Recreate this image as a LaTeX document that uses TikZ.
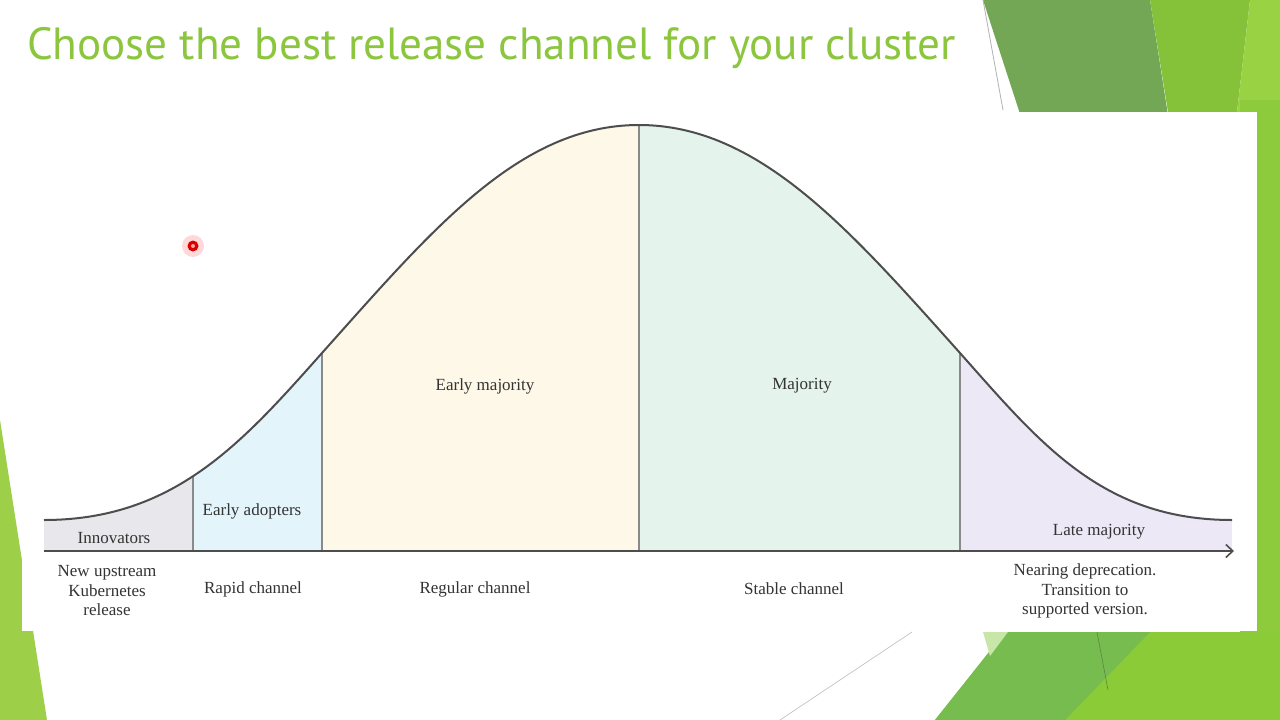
\documentclass[tikz,border=0pt]{standalone}
\usepackage{fontspec}
\setmainfont{Liberation Serif}
\newfontfamily\titlefont{PT Sans}
\usetikzlibrary{arrows.meta}
\definecolor{titlegreen}{HTML}{8CC63F}
\definecolor{txtgray}{HTML}{333333}
\definecolor{curvegray}{HTML}{4D4D4D}
\definecolor{sepgray}{HTML}{8A8A8A}
\definecolor{fInnov}{HTML}{E8E8EC}
\definecolor{fAdopt}{HTML}{E3F4FB}
\definecolor{fEarly}{HTML}{FDF8E7}
\definecolor{fMaj}{HTML}{E4F3EC}
\definecolor{fLate}{HTML}{ECE8F6}
\definecolor{gDark}{HTML}{73A755}
\definecolor{gBright}{HTML}{86C13A}
\definecolor{gLight}{HTML}{99D343}
\definecolor{gStrip}{HTML}{8ECB3C}
\definecolor{gLeft}{HTML}{9DCF48}
\definecolor{gMid}{HTML}{76BC4F}
\definecolor{gBase}{HTML}{8BCB38}
\definecolor{gPale}{HTML}{C8E6A8}
\newcommand{\bellpath}{(44,520) .. controls (174,520) and (242,443) .. (322,353)
  .. controls (432,230) and (519,125) .. (639,125)
  .. controls (759,125) and (850,230) .. (960,353)
  .. controls (1040,443) and (1102,520) .. (1232,520)}
\begin{document}
\begin{tikzpicture}[x=1pt,y=-1pt,
  lbl/.style={font=\fontsize{17}{19.5}\selectfont, text=txtgray, align=center, inner sep=0},
  sep/.style={draw=sepgray, line width=1.2pt},
  curveline/.style={draw=curvegray, line width=2pt},
  axisline/.style={draw=curvegray, line width=2pt, -{Straight Barb[length=7pt,width=13pt,line width=1.6pt]}}]
\useasboundingbox (0,0) rectangle (1280,720);
\fill[white] (0,0) rectangle (1280,720);
% slide decoration
\fill[gDark] (983,0) -- (1150,0) -- (1175,160) -- (1035,160) -- cycle;
\fill[gBright] (1150,0) -- (1250,0) -- (1237,112) -- (1168,112) -- cycle;
\fill[gLight] (1250,0) -- (1280,0) -- (1280,112) -- (1237,112) -- cycle;
\fill[gStrip] (1240,100) rectangle (1280,650);
\fill[gBase] (935,720) -- (1005,632) -- (1280,632) -- (1280,720) -- cycle;
\fill[gMid] (935,720) -- (1005,632) -- (1150,632) -- (1065,720) -- cycle;
\fill[gPale] (983,632) -- (1008,632) -- (990,656) -- cycle;
\draw[gDark!80!black, line width=0.6pt] (1097,632) -- (1108,690);
\draw[black!22, line width=0.8pt] (780,720) -- (912,632);
\draw[black!30, line width=0.8pt] (983,0) -- (1003,110);
\fill[gLeft] (0,420) -- (47,720) -- (0,720) -- cycle;
% white panel
\fill[white] (22,112) rectangle (1257,631);
% title
\node[anchor=base west, text=titlegreen, inner sep=0] (title) at (27,59)
  {\resizebox{928pt}{!}{\titlefont Choose the best release channel for your cluster}};
% filled regions under the curve, with separators
\begin{scope}
  \clip \bellpath -- (1232,551) -- (44,551) -- cycle;
  \fill[fInnov] (44,100) rectangle (193,551);
  \fill[fAdopt] (193,100) rectangle (322,551);
  \fill[fEarly] (322,100) rectangle (639,551);
  \fill[fMaj] (639,100) rectangle (960,551);
  \fill[fLate] (960,100) rectangle (1232,551);
  \foreach \s in {193,322,639,960} { \draw[sep] (\s,100) -- (\s,551); }
\end{scope}
% curve
\draw[curveline] \bellpath;
% axis
\coordinate (axL) at (44,551);
\coordinate (axR) at (1234,551);
\draw[axisline] (axL) -- (axR);
% labels
\node[lbl] (innov) at (114,538) {Innovators};
\node[lbl] (adopt) at (252,511) {Early adopters};
\node[lbl] (early) at (485,386) {Early majority};
\node[lbl] (maj) at (802,386) {Majority};
\node[lbl] (late) at (1099,532) {Late majority};
\node[lbl] (newup) at (107,591) {New upstream\\Kubernetes\\release};
\node[lbl] (rapid) at (253,589) {Rapid channel};
\node[lbl] (regular) at (475,589) {Regular channel};
\node[lbl] (stable) at (794,589) {Stable channel};
\node[lbl] (nearing) at (1085,591) {Nearing deprecation.\\Transition to\\supported version.};
% laser pointer dot
\fill[red, opacity=0.15] (193,246) circle (11);
\fill[red!85!black] (193,246) circle (5.5);
\fill[red!35] (193,246) circle (2);
\end{tikzpicture}
\end{document}
